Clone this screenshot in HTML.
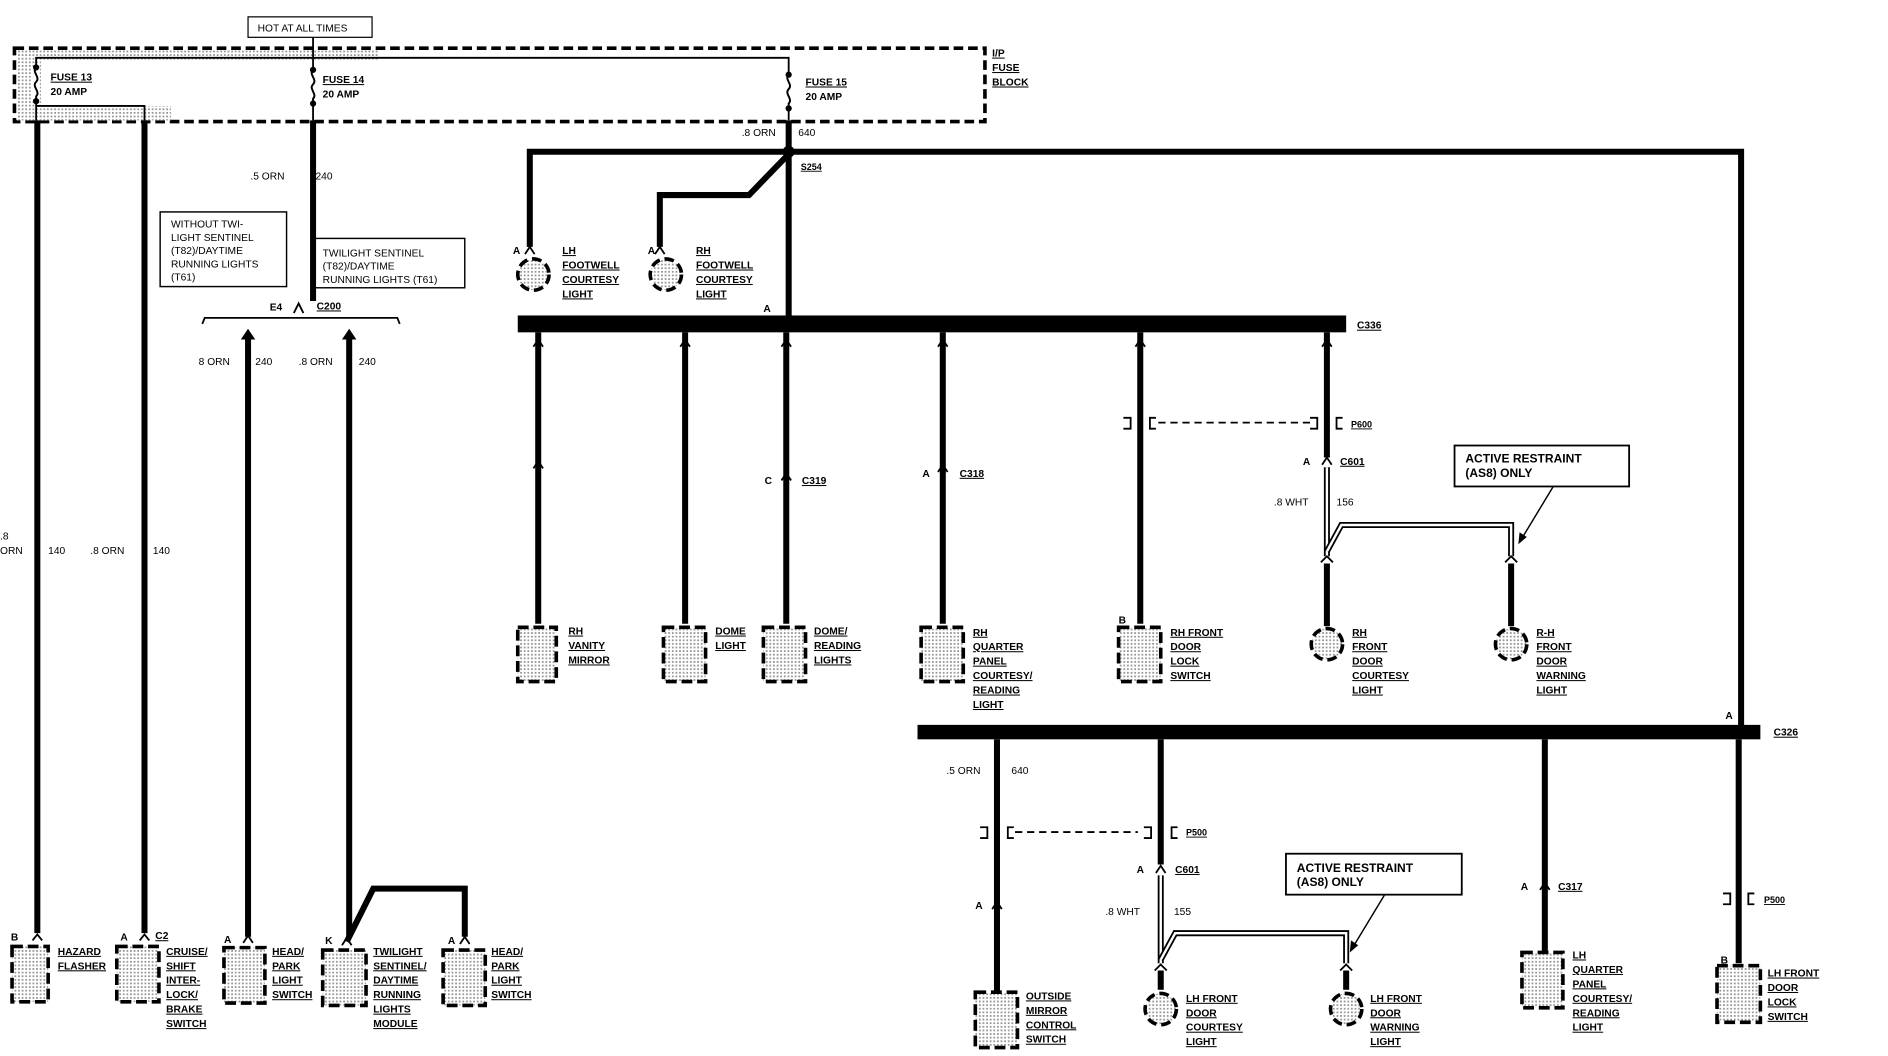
<!DOCTYPE html>
<html><head><meta charset="utf-8"><style>
html,body{margin:0;padding:0;background:#fff;}
svg{display:block;}
text{font-family:"Liberation Sans",sans-serif;font-size:8.5px;font-weight:bold;fill:#000;}
.u{text-decoration:underline;}
.w{stroke:#000;stroke-width:5;fill:none;}
.t{stroke:#000;stroke-width:1.5;fill:none;}
.box{fill:url(#dots);stroke:#000;stroke-width:3;stroke-dasharray:9 4;}
</style></head><body>
<svg width="1888" height="1056" viewBox="0 0 1568 877" preserveAspectRatio="none" xmlns="http://www.w3.org/2000/svg">
<defs>
<pattern id="dots" width="3" height="3" patternUnits="userSpaceOnUse"><rect width="3" height="3" fill="#fff"/><rect width="1.5" height="1.5" fill="#999"/></pattern>
</defs>
<!-- top -->
<rect x="206" y="14" width="103" height="17" fill="#fff" stroke="#000" stroke-width="1"/>
<text x="214" y="26" style="font-weight:normal">HOT AT ALL TIMES</text>
<rect x="12" y="40" width="806" height="61" fill="none" stroke="#000" stroke-width="3" stroke-dasharray="8 4"/>
<rect x="14" y="42" width="20" height="58" fill="url(#dots)"/>
<rect x="14" y="42" width="300" height="8" fill="url(#dots)"/>
<rect x="30" y="88" width="112" height="12" fill="url(#dots)"/>
<polyline class="t" points="30,100 30,48 655,48 655,100" stroke-width="2.2"/>
<line class="t" x1="260" y1="31" x2="260" y2="100" stroke-width="2.2"/>
<polyline class="t" points="30,88 120,88 120,100" stroke-width="2.2"/>
<!-- fuse symbols -->
<g fill="#fff" stroke="#000" stroke-width="1.6">
<rect x="27" y="56" width="6" height="28" stroke="none"/>
<path d="M30,56 c-4,4 4,8 0,12 c-4,4 4,8 0,12 l0,4" fill="none"/>
<circle cx="30" cy="56" r="1.8" fill="#000"/><circle cx="30" cy="84" r="1.8" fill="#000"/>
<rect x="257" y="58" width="6" height="28" stroke="none"/>
<path d="M260,58 c-4,4 4,8 0,12 c-4,4 4,8 0,12 l0,4" fill="none"/>
<circle cx="260" cy="58" r="1.8" fill="#000"/><circle cx="260" cy="86" r="1.8" fill="#000"/>
<rect x="652" y="62" width="6" height="28" stroke="none"/>
<path d="M655,62 c-4,4 4,8 0,12 c-4,4 4,8 0,12 l0,4" fill="none"/>
<circle cx="655" cy="62" r="1.8" fill="#000"/><circle cx="655" cy="90" r="1.8" fill="#000"/>
</g>
<text x="42" y="67" class="u">FUSE 13</text><text x="42" y="79">20 AMP</text>
<text x="268" y="69" class="u">FUSE 14</text><text x="268" y="81">20 AMP</text>
<text x="669" y="71" class="u">FUSE 15</text><text x="669" y="83">20 AMP</text>
<text x="824" y="47" class="u">I/P</text><text x="824" y="59" class="u">FUSE</text><text x="824" y="71" class="u">BLOCK</text>
<!-- left wires -->
<line class="w" x1="31" y1="100" x2="31" y2="775"/>
<line class="w" x1="120" y1="100" x2="120" y2="775"/>
<text x="0" y="448" style="font-weight:normal">.8</text><text x="0" y="460" style="font-weight:normal">ORN</text>
<text x="40" y="460" style="font-weight:normal">140</text>
<text x="75" y="460" style="font-weight:normal">.8 ORN</text><text x="127" y="460" style="font-weight:normal">140</text>
<line class="w" x1="260" y1="100" x2="260" y2="250"/>
<text x="208" y="149" style="font-weight:normal">.5 ORN</text><text x="262" y="149" style="font-weight:normal">240</text>
<rect x="133" y="176" width="105" height="62" fill="none" stroke="#000" stroke-width="1.2"/>
<text x="142" y="189" style="font-weight:normal">WITHOUT TWI-</text><text x="142" y="200" style="font-weight:normal">LIGHT SENTINEL</text><text x="142" y="211" style="font-weight:normal">(T82)/DAYTIME</text><text x="142" y="222" style="font-weight:normal">RUNNING LIGHTS</text><text x="142" y="233" style="font-weight:normal">(T61)</text>
<rect x="259" y="198" width="127" height="41" fill="none" stroke="#000" stroke-width="1.2"/>
<text x="268" y="213" style="font-weight:normal">TWILIGHT SENTINEL</text><text x="268" y="224" style="font-weight:normal">(T82)/DAYTIME</text><text x="268" y="235" style="font-weight:normal">RUNNING LIGHTS (T61)</text>
<text x="224" y="258">E4</text><text x="263" y="257" class="u">C200</text>
<polyline class="t" points="244,260 248,252 252,260"/>
<polyline class="t" points="168,269 170,264 330,264 332,269" stroke-width="2"/>
<line class="w" x1="206" y1="280" x2="206" y2="778"/><polygon points="200,282 206,273 212,282"/>
<line class="w" x1="290" y1="280" x2="290" y2="778"/><polygon points="284,282 290,273 296,282"/>
<text x="165" y="303" style="font-weight:normal">8 ORN</text><text x="212" y="303" style="font-weight:normal">240</text>
<text x="248" y="303" style="font-weight:normal">.8 ORN</text><text x="298" y="303" style="font-weight:normal">240</text>
<polyline class="w" points="288,782 310,738 386,738 386,778"/>
<!-- bottom left components -->
<rect class="box" x="10" y="786" width="30" height="46"/>
<text x="9" y="781">B</text><polyline class="t" points="27,781 31,776 35,781" stroke-width="2"/>
<text x="48" y="793" class="u">HAZARD</text><text x="48" y="805" class="u">FLASHER</text>
<rect class="box" x="97" y="786" width="35" height="46"/>
<text x="100" y="781">A</text><polyline class="t" points="116,781 120,776 124,781" stroke-width="2"/><text x="129" y="780" class="u">C2</text>
<text x="138" y="793" class="u">CRUISE/</text><text x="138" y="805" class="u">SHIFT</text><text x="138" y="817" class="u">INTER-</text><text x="138" y="829" class="u">LOCK/</text><text x="138" y="841" class="u">BRAKE</text><text x="138" y="853" class="u">SWITCH</text>
<rect class="box" x="186" y="787" width="34" height="46"/>
<text x="186" y="783">A</text><polyline class="t" points="202,783 206,777 210,783" stroke-width="2"/>
<text x="226" y="793" class="u">HEAD/</text><text x="226" y="805" class="u">PARK</text><text x="226" y="817" class="u">LIGHT</text><text x="226" y="829" class="u">SWITCH</text>
<rect class="box" x="268" y="789" width="36" height="46"/>
<text x="270" y="784">K</text><polyline class="t" points="284,785 288,779 292,785" stroke-width="2"/>
<text x="310" y="793" class="u">TWILIGHT</text><text x="310" y="805" class="u">SENTINEL/</text><text x="310" y="817" class="u">DAYTIME</text><text x="310" y="829" class="u">RUNNING</text><text x="310" y="841" class="u">LIGHTS</text><text x="310" y="853" class="u">MODULE</text>
<rect class="box" x="368" y="789" width="35" height="46"/>
<text x="372" y="784">A</text><polyline class="t" points="382,784 386,778 390,784" stroke-width="2"/>
<text x="408" y="793" class="u">HEAD/</text><text x="408" y="805" class="u">PARK</text><text x="408" y="817" class="u">LIGHT</text><text x="408" y="829" class="u">SWITCH</text>
<!-- fuse 15 feed -->
<line class="w" x1="655" y1="100" x2="655" y2="262"/>
<text x="616" y="113" style="font-weight:normal">.8 ORN</text><text x="663" y="113" style="font-weight:normal">640</text>
<polyline class="w" points="440,205 440,126 1446,126 1446,604"/>
<circle cx="655" cy="126" r="5"/>
<text x="665" y="141" class="u" style="font-size:7.5px">S254</text>
<polyline class="w" points="653,130 622,162 548,162 548,205"/>
<text x="426" y="211">A</text><polyline class="t" points="436,211 440,205 444,211" stroke-width="2"/>
<circle cx="443" cy="228" r="13" fill="url(#dots)" stroke="#000" stroke-width="3" stroke-dasharray="8 4"/>
<text x="467" y="211" class="u">LH</text><text x="467" y="223" class="u">FOOTWELL</text><text x="467" y="235" class="u">COURTESY</text><text x="467" y="247" class="u">LIGHT</text>
<text x="538" y="211">A</text><polyline class="t" points="544,211 548,205 552,211" stroke-width="2"/>
<circle cx="553" cy="228" r="13" fill="url(#dots)" stroke="#000" stroke-width="3" stroke-dasharray="8 4"/>
<text x="578" y="211" class="u">RH</text><text x="578" y="223" class="u">FOOTWELL</text><text x="578" y="235" class="u">COURTESY</text><text x="578" y="247" class="u">LIGHT</text>
<text x="634" y="259">A</text>
<!-- C336 bar -->
<rect x="430" y="262" width="688" height="14"/>
<text x="1127" y="273" class="u">C336</text>
<line class="w" x1="447" y1="276" x2="447" y2="518"/>
<line class="w" x1="569" y1="276" x2="569" y2="518"/>
<line class="w" x1="653" y1="276" x2="653" y2="518"/>
<line class="w" x1="783" y1="276" x2="783" y2="518"/>
<line class="w" x1="947" y1="276" x2="947" y2="518"/>
<line class="w" x1="1102" y1="276" x2="1102" y2="380"/>
<g class="t" stroke-width="2">
<polyline points="443,288 447,282 451,288"/><polyline points="565,288 569,282 573,288"/><polyline points="649,288 653,282 657,288"/><polyline points="779,288 783,282 787,288"/><polyline points="943,288 947,282 951,288"/><polyline points="1098,288 1102,282 1106,288"/>
<polyline points="443,389 447,383 451,389"/>
<polyline points="649,399 653,393 657,399"/><polyline points="779,392 783,386 787,392"/>
</g>
<text x="635" y="402">C</text><text x="666" y="402" class="u">C319</text>
<text x="766" y="396">A</text><text x="797" y="396" class="u">C318</text>
<!-- P600 -->
<line x1="962" y1="351" x2="1090" y2="351" stroke="#000" stroke-width="1.5" stroke-dasharray="6 4"/>
<polyline points="933,347 939,347 939,356 933,356" class="t" stroke-width="2.5"/>
<polyline points="960,347 955,347 955,356 960,356" class="t" stroke-width="2.5"/>
<polyline points="1088,347 1094,347 1094,356 1088,356" class="t" stroke-width="2.5"/>
<polyline points="1115,347 1110,347 1110,356 1115,356" class="t" stroke-width="2.5"/>
<text x="1122" y="355" class="u" style="font-size:7.5px">P600</text>
<text x="1082" y="386">A</text><text x="1113" y="386" class="u">C601</text>
<polyline class="t" points="1098,386 1102,380 1106,386" stroke-width="2"/>
<!-- double wire -->
<g fill="none" stroke="#000">
<polyline points="1102,388 1102,462" stroke-width="5"/><polyline points="1102,388 1102,462" stroke-width="2" stroke="#fff"/>
<polyline points="1102,458 1114,436 1255,436 1255,462" stroke-width="5"/><polyline points="1102,458 1114,436 1255,436 1255,462" stroke-width="2" stroke="#fff"/>
</g>
<text x="1058" y="420" style="font-weight:normal">.8 WHT</text><text x="1110" y="420" style="font-weight:normal">156</text>
<line class="w" x1="1102" y1="468" x2="1102" y2="520"/><line class="w" x1="1255" y1="468" x2="1255" y2="520"/>
<polyline class="t" points="1097,467 1102,462 1107,467" stroke-width="2"/><polyline class="t" points="1250,467 1255,462 1260,467" stroke-width="2"/>
<rect x="1208" y="370" width="145" height="34" fill="#fff" stroke="#000" stroke-width="1.5"/>
<text x="1217" y="384" style="font-size:10px">ACTIVE RESTRAINT</text><text x="1217" y="396" style="font-size:10px">(AS8) ONLY</text>
<line x1="1290" y1="404" x2="1264" y2="447" stroke="#000" stroke-width="1.2"/><polygon points="1261,452 1262,442 1268,446"/>
<!-- upper components -->
<rect class="box" x="430" y="521" width="32" height="45"/>
<text x="472" y="527" class="u">RH</text><text x="472" y="539" class="u">VANITY</text><text x="472" y="551" class="u">MIRROR</text>
<rect class="box" x="551" y="521" width="35" height="45"/>
<text x="594" y="527" class="u">DOME</text><text x="594" y="539" class="u">LIGHT</text>
<rect class="box" x="634" y="521" width="35" height="45"/>
<text x="676" y="527" class="u">DOME/</text><text x="676" y="539" class="u">READING</text><text x="676" y="551" class="u">LIGHTS</text>
<rect class="box" x="765" y="521" width="35" height="45"/>
<text x="808" y="528" class="u">RH</text><text x="808" y="540" class="u">QUARTER</text><text x="808" y="552" class="u">PANEL</text><text x="808" y="564" class="u">COURTESY/</text><text x="808" y="576" class="u">READING</text><text x="808" y="588" class="u">LIGHT</text>
<text x="929" y="518">B</text>
<rect class="box" x="929" y="521" width="35" height="45"/>
<text x="972" y="528" class="u">RH FRONT</text><text x="972" y="540" class="u">DOOR</text><text x="972" y="552" class="u">LOCK</text><text x="972" y="564" class="u">SWITCH</text>
<circle cx="1102" cy="535" r="13" fill="url(#dots)" stroke="#000" stroke-width="3" stroke-dasharray="8 4"/>
<text x="1123" y="528" class="u">RH</text><text x="1123" y="540" class="u">FRONT</text><text x="1123" y="552" class="u">DOOR</text><text x="1123" y="564" class="u">COURTESY</text><text x="1123" y="576" class="u">LIGHT</text>
<circle cx="1255" cy="535" r="13" fill="url(#dots)" stroke="#000" stroke-width="3" stroke-dasharray="8 4"/>
<text x="1276" y="528" class="u">R-H</text><text x="1276" y="540" class="u">FRONT</text><text x="1276" y="552" class="u">DOOR</text><text x="1276" y="564" class="u">WARNING</text><text x="1276" y="576" class="u">LIGHT</text>
<!-- C326 bar -->
<rect x="762" y="602" width="700" height="12"/>
<text x="1473" y="611" class="u">C326</text>
<text x="1433" y="597">A</text>
<line class="w" x1="828" y1="614" x2="828" y2="823"/>
<line class="w" x1="964" y1="614" x2="964" y2="718"/>
<line class="w" x1="1283" y1="614" x2="1283" y2="790"/>
<line class="w" x1="1444" y1="614" x2="1444" y2="800"/>
<text x="786" y="643" style="font-weight:normal">.5 ORN</text><text x="840" y="643" style="font-weight:normal">640</text>
<line x1="843" y1="691" x2="945" y2="691" stroke="#000" stroke-width="1.5" stroke-dasharray="6 4"/>
<polyline points="814,687 820,687 820,696 814,696" class="t" stroke-width="2.5"/>
<polyline points="842,687 837,687 837,696 842,696" class="t" stroke-width="2.5"/>
<polyline points="950,687 956,687 956,696 950,696" class="t" stroke-width="2.5"/>
<polyline points="978,687 973,687 973,696 978,696" class="t" stroke-width="2.5"/>
<text x="985" y="694" class="u" style="font-size:7.5px">P500</text>
<text x="944" y="725">A</text><text x="976" y="725" class="u">C601</text>
<polyline class="t" points="960,725 964,719 968,725" stroke-width="2"/>
<text x="810" y="755">A</text><polyline class="t" points="824,755 828,749 832,755" stroke-width="2"/>
<g fill="none" stroke="#000">
<polyline points="964,727 964,800" stroke-width="5"/><polyline points="964,727 964,800" stroke-width="2" stroke="#fff"/>
<polyline points="964,797 976,775 1118,775 1118,800" stroke-width="5"/><polyline points="964,797 976,775 1118,775 1118,800" stroke-width="2" stroke="#fff"/>
</g>
<text x="918" y="760" style="font-weight:normal">.8 WHT</text><text x="975" y="760" style="font-weight:normal">155</text>
<line class="w" x1="964" y1="806" x2="964" y2="822"/><line class="w" x1="1118" y1="806" x2="1118" y2="822"/>
<polyline class="t" points="959,806 964,801 969,806" stroke-width="2"/><polyline class="t" points="1113,806 1118,801 1123,806" stroke-width="2"/>
<rect x="1068" y="709" width="146" height="34" fill="#fff" stroke="#000" stroke-width="1.5"/>
<text x="1077" y="724" style="font-size:10px">ACTIVE RESTRAINT</text><text x="1077" y="736" style="font-size:10px">(AS8) ONLY</text>
<line x1="1150" y1="743" x2="1124" y2="786" stroke="#000" stroke-width="1.2"/><polygon points="1121,791 1122,781 1128,785"/>
<text x="1263" y="739">A</text><text x="1294" y="739" class="u">C317</text>
<polyline class="t" points="1279,739 1283,733 1287,739" stroke-width="2"/>
<polyline points="1431,742 1437,742 1437,751 1431,751" class="t" stroke-width="2.5"/>
<polyline points="1457,742 1452,742 1452,751 1457,751" class="t" stroke-width="2.5"/>
<text x="1465" y="750" class="u" style="font-size:7.5px">P500</text>
<text x="1429" y="800">B</text>
<!-- bottom right components -->
<rect class="box" x="810" y="824" width="35" height="46"/>
<text x="852" y="830" class="u">OUTSIDE</text><text x="852" y="842" class="u">MIRROR</text><text x="852" y="854" class="u">CONTROL</text><text x="852" y="866" class="u">SWITCH</text>
<circle cx="964" cy="838" r="13" fill="url(#dots)" stroke="#000" stroke-width="3" stroke-dasharray="8 4"/>
<text x="985" y="832" class="u">LH FRONT</text><text x="985" y="844" class="u">DOOR</text><text x="985" y="856" class="u">COURTESY</text><text x="985" y="868" class="u">LIGHT</text>
<circle cx="1118" cy="838" r="13" fill="url(#dots)" stroke="#000" stroke-width="3" stroke-dasharray="8 4"/>
<text x="1138" y="832" class="u">LH FRONT</text><text x="1138" y="844" class="u">DOOR</text><text x="1138" y="856" class="u">WARNING</text><text x="1138" y="868" class="u">LIGHT</text>
<rect class="box" x="1264" y="791" width="34" height="46"/>
<text x="1306" y="796" class="u">LH</text><text x="1306" y="808" class="u">QUARTER</text><text x="1306" y="820" class="u">PANEL</text><text x="1306" y="832" class="u">COURTESY/</text><text x="1306" y="844" class="u">READING</text><text x="1306" y="856" class="u">LIGHT</text>
<rect class="box" x="1426" y="802" width="36" height="47"/>
<text x="1468" y="811" class="u">LH FRONT</text><text x="1468" y="823" class="u">DOOR</text><text x="1468" y="835" class="u">LOCK</text><text x="1468" y="847" class="u">SWITCH</text>
</svg>
</body></html>
